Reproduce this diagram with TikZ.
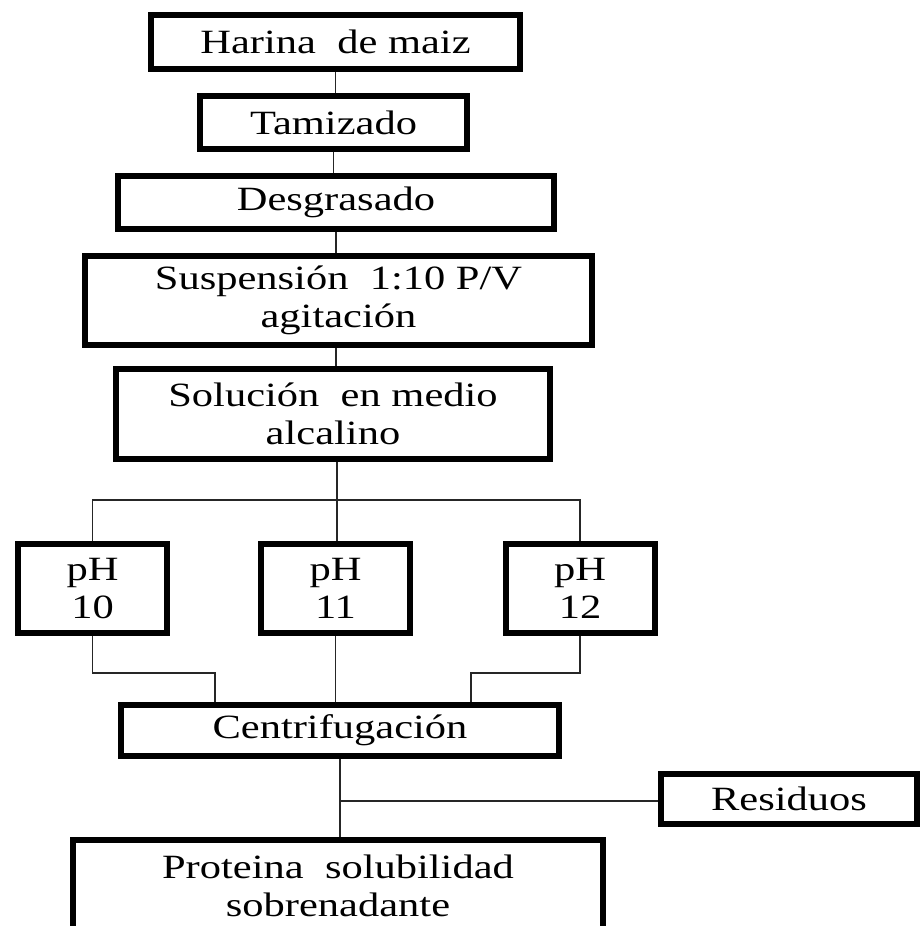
\documentclass[tikz,border=0pt]{standalone}
\usepackage{fontspec}
\setmainfont[FakeStretch=1.25]{Liberation Serif}
\begin{document}
\begin{tikzpicture}[x=0.75pt,y=-0.75pt,
  box/.style={draw=black,line width=4.5pt,inner sep=0pt,align=center,
    font=\fontsize{25.5}{28.5}\selectfont},
  link/.style={draw=black!85,line width=1.4pt}]
\useasboundingbox (0,0) rectangle (920,926);
\clip (0,0) rectangle (920,926);

% process chain
\node[box,minimum width=276.75pt,minimum height=40.5pt] (harina) at (335.5,42) {Harina\ \ de maiz};
\node[box,minimum width=200.25pt,minimum height=39.75pt] (tamiz) at (333.5,122.5) {Tamizado};
\node[box,minimum width=327pt,minimum height=39.75pt] (desg) at (336,202.5) {Desgrasado};
\node[box,minimum width=380.25pt,minimum height=66.75pt] (susp) at (338.5,300.5) {Suspensión\ \ 1:10 P/V\\agitación};
\node[box,minimum width=325.5pt,minimum height=67.5pt] (soluc) at (333,414) {Solución\ \ en medio\\alcalino};

% pH branches
\node[box,minimum width=111.75pt,minimum height=66.75pt] (ph10) at (92.5,588.5) {pH\\10};
\node[box,minimum width=111.75pt,minimum height=66.75pt] (ph11) at (335.5,588.5) {pH\\11};
\node[box,minimum width=111.75pt,minimum height=66.75pt] (ph12) at (580,588.5) {pH\\12};

\node[box,minimum width=328.5pt,minimum height=38.25pt] (centri) at (340,730.5) {Centrifugación};
\node[box,minimum width=192pt,minimum height=37.5pt] (resid) at (789,799) {Residuos};
\node[box,minimum width=397.5pt,minimum height=69pt] (prot) at (338,886) {Proteina\ \ solubilidad\\sobrenadante};

% junction points
\coordinate (split) at (337,500);
\coordinate (mergeL) at (215,673);
\coordinate (mergeR) at (471,673);
\coordinate (tap) at (340,801);

% connectors
\draw[link] (harina.south) -- (harina.south |- tamiz.north);
\draw[link] (tamiz.south) -- (tamiz.south |- desg.north);
\draw[link] (desg.south) -- (desg.south |- susp.north);
\draw[link] (susp.south -| desg.south) -- (desg.south |- soluc.north);
\draw[link] (soluc.south -| split) -- (split |- ph11.north);
\draw[link] (ph10.north) |- (split) -| (ph12.north);
\draw[link] (ph10.south) |- (mergeL) -- (mergeL |- centri.north);
\draw[link] (ph12.south) |- (mergeR) -- (mergeR |- centri.north);
\draw[link] (ph11.south) -- (ph11.south |- centri.north);
\draw[link] (centri.south) -- (centri.south |- prot.north);
\draw[link] (tap) -- (tap -| resid.west);
\end{tikzpicture}
\end{document}
